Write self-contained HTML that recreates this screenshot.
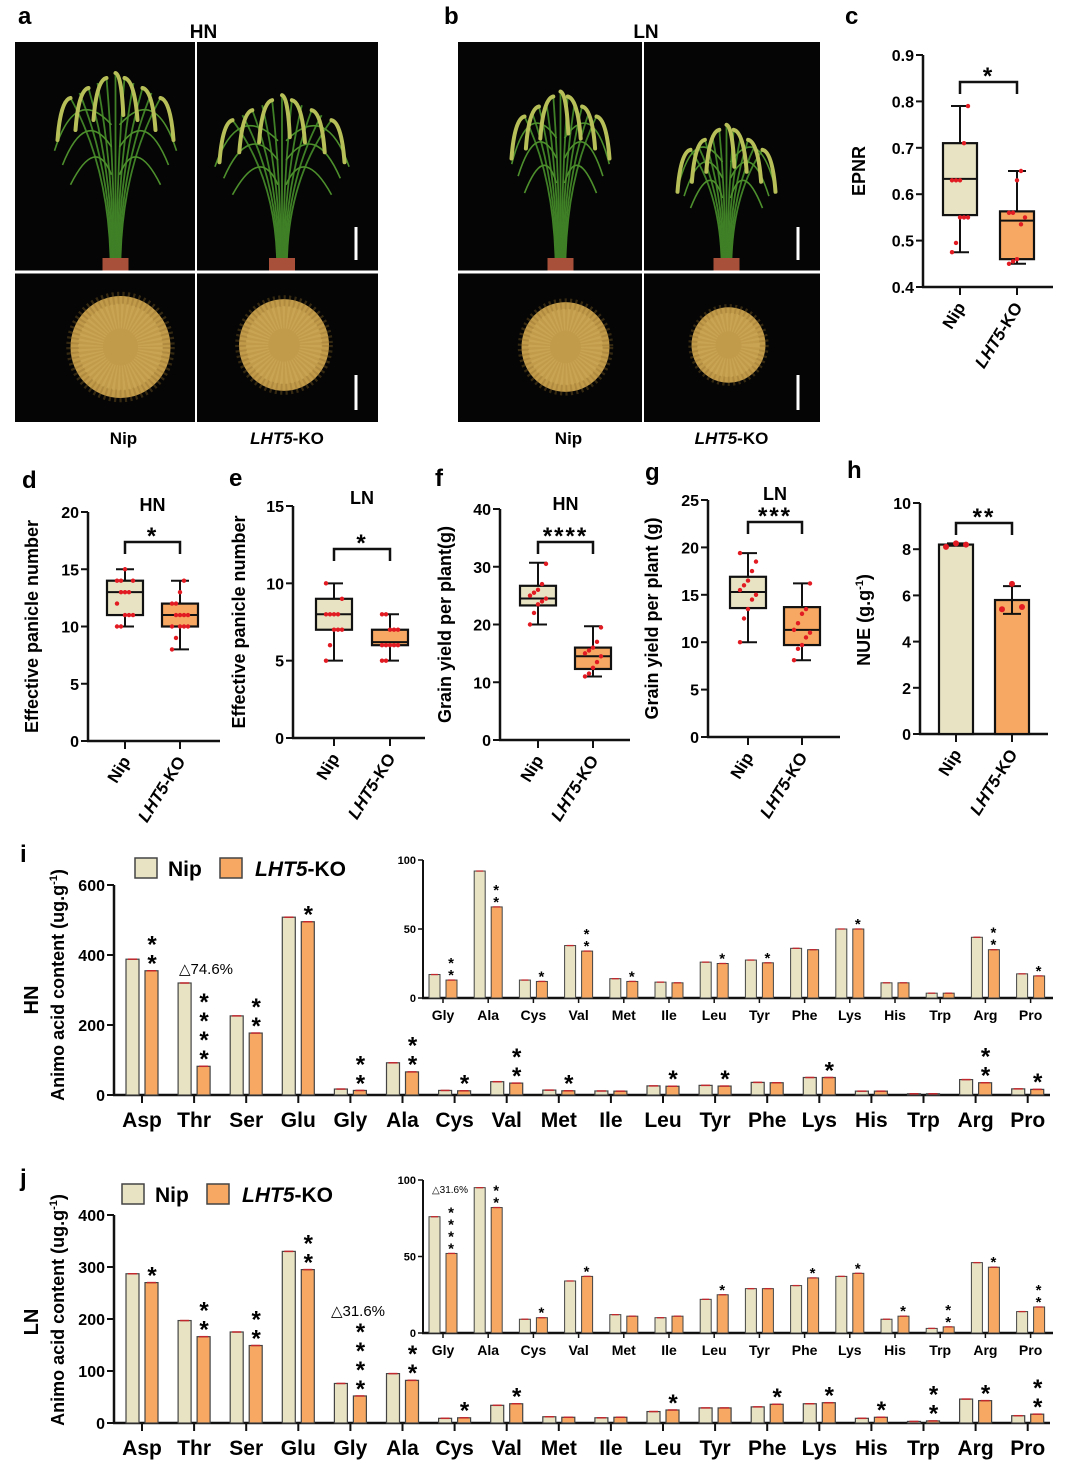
<!DOCTYPE html>
<html><head><meta charset="utf-8"><style>
html,body{margin:0;padding:0;background:#fff;}
svg{display:block;font-family:"Liberation Sans",Arial,sans-serif;}
</style></head><body>
<svg id="fig" width="1080" height="1473" viewBox="0 0 1080 1473" xmlns="http://www.w3.org/2000/svg">
<g id="photos"></g>
<g id="charts"></g>
</svg>
<script>
// ---------- DATA ----------
const groups = ["Nip", "LHT5-KO"];
// panel c (EPNR) box stats: [min, q1, median, q3, max]
const cNip = [0.475, 0.555, 0.633, 0.71, 0.79];
const cKO = [0.45, 0.46, 0.543, 0.563, 0.65];
const cTicks = [0.4, 0.5, 0.6, 0.7, 0.8, 0.9];
const cDotsNip = [0.475, 0.495, 0.55, 0.55, 0.55, 0.63, 0.63, 0.63, 0.71, 0.79];
const cDotsKO = [0.45, 0.455, 0.46, 0.535, 0.55, 0.56, 0.56, 0.63, 0.65];
// panel d
const dNip = [10, 11, 13, 14, 15];
const dKO = [8, 10, 11, 12, 14];
const dTicks = [0, 5, 10, 15, 20];
const dDotsNip = [10, 10, 11, 11, 11, 12, 13, 13, 13, 14, 14, 14, 15];
const dDotsKO = [8, 9, 10, 10, 10, 10, 11, 11, 11, 11, 12, 12, 13, 14];
// panel e
const eNip = [5, 7, 8, 9, 10];
const eKO = [5, 6, 6.2, 7, 8];
const eTicks = [0, 5, 10, 15];
const eDotsNip = [5, 6, 7, 7, 7, 8, 8, 8, 8, 9, 10];
const eDotsKO = [5, 5, 6, 6, 6, 6, 6, 7, 7, 7, 8, 8];
// panel f
const fNip = [20, 23.3, 24.5, 26.7, 30.7];
const fKO = [11, 12.3, 14.5, 16, 19.7];
const fTicks = [0, 10, 20, 30, 40];
const fDotsNip = [20, 22, 23.5, 24, 24.5, 25, 25.5, 26, 27, 30.5];
const fDotsKO = [11, 11.5, 12.5, 13.5, 14.5, 15, 15.5, 16, 17, 19.5];
// panel g
const gNip = [10, 13.6, 15.3, 16.9, 19.4];
const gKO = [8.1, 9.7, 11.3, 13.7, 16.2];
const gTicks = [0, 5, 10, 15, 20, 25];
const gDotsNip = [10, 12.5, 13.5, 14.5, 15, 15.5, 16, 16.5, 17.5, 18.5, 19.4];
const gDotsKO = [8.1, 9.3, 9.7, 10.5, 11, 11.3, 12, 13, 13.5, 16.2];
// panel h
const hValues = [8.2, 5.8];
const hErrLow = [8.15, 5.2];
const hErrHigh = [8.25, 6.4];
const hDotsNip = [8.1, 8.25, 8.2];
const hDotsKO = [5.4, 6.5, 5.5];
const hTicks = [0, 2, 4, 6, 8, 10];
// amino acids
const aaMain = ["Asp","Thr","Ser","Glu","Gly","Ala","Cys","Val","Met","Ile","Leu","Tyr","Phe","Lys","His","Trp","Arg","Pro"];
const aaInset = ["Gly","Ala","Cys","Val","Met","Ile","Leu","Tyr","Phe","Lys","His","Trp","Arg","Pro"];
const hnNip = [388, 320, 226, 508, 17, 92, 13, 38, 14, 11.5, 26, 27.5, 36, 50, 11, 3.5, 44, 17.5];
const hnKO = [355, 82, 177, 495, 13, 66, 12, 34, 12, 11, 25, 25.5, 35, 50, 11, 3.5, 35, 16];
const hnStars = [2, 4, 2, 1, 2, 2, 1, 2, 1, 0, 1, 1, 0, 1, 0, 0, 2, 1];
const lnNip = [287, 197, 175, 330, 76, 95, 9, 34, 12, 10, 22, 29, 31, 37, 9, 3, 46, 14];
const lnKO = [270, 166, 149, 295, 52, 82, 10, 37, 11, 11, 25, 29, 36, 39, 11, 4, 43, 17];
const lnStars = [1, 2, 2, 2, 4, 2, 1, 1, 0, 0, 1, 0, 1, 1, 1, 2, 1, 2];
const hnTicks = [0, 200, 400, 600];
const lnTicks = [0, 100, 200, 300, 400];
const insetTicks = [0, 50, 100];

// ---------- HELPERS ----------
const NS = "http://www.w3.org/2000/svg";
const photos = document.getElementById("photos");
const charts = document.getElementById("charts");
function mk(tag, attrs, parent, txt) {
  const e = document.createElementNS(NS, tag);
  for (const k in attrs) e.setAttribute(k, attrs[k]);
  if (txt !== undefined) e.textContent = txt;
  (parent || charts).appendChild(e);
  return e;
}
function lin(d0, d1, r0, r1) { return v => r0 + (v - d0) * (r1 - r0) / (d1 - d0); }

// ---------- PHOTOS ----------
function plant(g, cx, baseY, h, spread) {
  mk("rect", {x: cx - 13, y: baseY, width: 26, height: 13, fill: "#a9503a"}, g);
  const offs = [-5, -4, -3, -2, -1, 0, 1, 2, 3, 4, 5];
  offs.forEach(i => {
    const tx = cx + i * spread * 0.09;
    const ty = baseY - h + Math.abs(i) * 5;
    mk("path", {d: `M${cx + i},${baseY} Q${cx + i * 1.5},${baseY - h * 0.5} ${tx},${ty}`, stroke: "#3f7f26", "stroke-width": 1.8, fill: "none"}, g);
  });
  // leaves
  [-1, 1].forEach(s => {
    [0.45, 0.6, 0.72].forEach((f, j) => {
      const y0 = baseY - h * f;
      mk("path", {d: `M${cx + s * 4},${y0} Q${cx + s * (20 + j * 10) * spread / 100},${y0 - 40} ${cx + s * (45 + j * 8) * spread / 100},${y0 + 10 + j * 8}`, stroke: "#4d8f2c", "stroke-width": 1.6, fill: "none"}, g);
    });
  });
  // panicles drooping
  offs.filter(i => i % 2 !== 0 || i === 0).forEach(i => {
    const tx = cx + i * spread * 0.09;
    const ty = baseY - h + Math.abs(i) * 5;
    const d = i === 0 ? 6 : Math.sign(i) * 10;
    mk("path", {d: `M${tx},${ty} Q${tx + d},${ty + 2} ${tx + d * 1.3},${ty + 42}`, stroke: "#b7bf58", "stroke-width": 4, fill: "none", "stroke-linecap": "round"}, g);
  });
}
function grains(g, cx, cy, r) {
  mk("ellipse", {cx: cx, cy: cy, rx: r, ry: r * 1.02, fill: "#c19a4a"}, g);
  mk("ellipse", {cx: cx, cy: cy, rx: r * 0.96, ry: r * 0.98, fill: "none", stroke: "#8e6d2c", "stroke-width": r * 0.25, "stroke-dasharray": "2 3", opacity: 0.35}, g);
  mk("ellipse", {cx: cx, cy: cy, rx: r * 0.6, ry: r * 0.62, fill: "none", stroke: "#d8b865", "stroke-width": r * 0.5, "stroke-dasharray": "2 2", opacity: 0.35}, g);
}
function photoPanel(x0, x1, divX, cond, p1, p2) {
  const g = mk("g", {}, photos);
  
  
  mk("rect", {x: x0, y: 42, width: x1 - x0, height: 380, fill: "#050505"}, g);
  plant(g, (x0 + divX) / 2 + 10, 258, 185 * p1.h, 100 * p1.s);
  plant(g, (divX + x1) / 2 - 5, 258, 185 * p2.h, 100 * p2.s);
  grains(g, (x0 + divX) / 2 + 15, 347, p1.r);
  grains(g, (divX + x1) / 2 - 3, 345, p2.r);
  mk("line", {x1: divX, y1: 42, x2: divX, y2: 422, stroke: "#fff", "stroke-width": 2}, g);
  mk("line", {x1: x0, y1: 272, x2: x1, y2: 272, stroke: "#fff", "stroke-width": 3}, g);
  mk("line", {x1: x1 - 22, y1: 227, x2: x1 - 22, y2: 260, stroke: "#fff", "stroke-width": 3}, g);
  mk("line", {x1: x1 - 22, y1: 375, x2: x1 - 22, y2: 410, stroke: "#fff", "stroke-width": 3}, g);
  const t = mk("text", {x: (x0 + x1) / 2 + 7, y: 38, "font-size": 19, "font-weight": "bold", "text-anchor": "middle"}, photos, cond);
  
  
  mk("text", {x: (x0 + divX) / 2 + 18, y: 444, "font-size": 17, "font-weight": "bold", "text-anchor": "middle"}, photos, "Nip");
  const k = mk("text", {x: (divX + x1) / 2, y: 444, "font-size": 17, "font-weight": "bold", "text-anchor": "middle"}, photos);
  mk("tspan", {"font-style": "italic"}, k, "LHT5");
  mk("tspan", {}, k, "-KO");
}
photoPanel(15, 378, 196, "HN", {h: 1.0, s: 1, r: 50}, {h: 0.88, s: 1.1, r: 45});
photoPanel(458, 820, 643, "LN", {h: 0.9, s: 0.8, r: 44}, {h: 0.72, s: 0.8, r: 37});
function panelLetter(x, y, l) {
  const t = mk("text", {x: x, y: y, "font-size": 24, "font-weight": "bold"}, charts, l);
  
  
}
panelLetter(18, 24, "a"); panelLetter(444, 24, "b"); panelLetter(845, 24, "c");
panelLetter(22, 488, "d"); panelLetter(229, 486, "e"); panelLetter(435, 486, "f");
panelLetter(645, 480, "g"); panelLetter(847, 478, "h"); panelLetter(20, 862, "i"); panelLetter(20, 1186, "j");

// ---------- BOX / BAR PANELS ----------
function groupLabels(g, xs, y0) {
  const n = mk("text", {transform: `translate(${xs[0] + 6},${y0 + 20}) rotate(-58)`, "font-size": 17, "font-weight": "bold", "text-anchor": "end"}, g, "Nip");
   
  const k = mk("text", {transform: `translate(${xs[1] + 6},${y0 + 20}) rotate(-58)`, "font-size": 17, "font-weight": "bold", "text-anchor": "end"}, g);
   
  mk("tspan", {"font-style": "italic"}, k, "LHT5");
  mk("tspan", {}, k, "-KO");
}
function axes(g, ax, axEnd, y, ticks, dec, ylab, ylabX, fs) {
  mk("line", {x1: ax, y1: y(ticks[0]) + 1, x2: ax, y2: y(ticks[ticks.length - 1]), stroke: "#111", "stroke-width": 2.5}, g);
  mk("line", {x1: ax - 1, y1: y(ticks[0]), x2: axEnd, y2: y(ticks[0]), stroke: "#111", "stroke-width": 2.5}, g);
  ticks.forEach(t => {
    mk("line", {x1: ax - 7, y1: y(t), x2: ax, y2: y(t), stroke: "#111", "stroke-width": 2}, g);
    const tl = mk("text", {x: ax - 9, y: y(t) + 6, "font-size": 16, "font-weight": "bold", "text-anchor": "end"}, g, t.toFixed(dec));
     
  });
  const yl = mk("text", {transform: `translate(${ylabX},${(y(ticks[0]) + y(ticks[ticks.length - 1])) / 2}) rotate(-90)`, "font-size": fs || 18, "font-weight": "bold", "text-anchor": "middle"}, g, ylab);
   
  return yl;
}
function sig(g, x1, x2, yb, stars) {
  mk("path", {d: `M${x1},${yb + 12} V${yb} H${x2} V${yb + 12}`, stroke: "#111", "stroke-width": 2.5, fill: "none"}, g);
  const s = mk("text", {x: (x1 + x2) / 2, y: yb + 2, "font-size": 24, "font-weight": "bold", "text-anchor": "middle", "letter-spacing": 2}, g, stars);
   
}
function box(g, cx, w, st, y, fill, dots, name) {
  const b = mk("g", {}, g);
   
  mk("line", {x1: cx, y1: y(st[0]), x2: cx, y2: y(st[4]), stroke: "#111", "stroke-width": 2}, b);
  mk("line", {x1: cx - 9, y1: y(st[0]), x2: cx + 9, y2: y(st[0]), stroke: "#111", "stroke-width": 2}, b);
  mk("line", {x1: cx - 9, y1: y(st[4]), x2: cx + 9, y2: y(st[4]), stroke: "#111", "stroke-width": 2}, b);
  mk("rect", {x: cx - w / 2, y: y(st[3]), width: w, height: y(st[1]) - y(st[3]), fill: fill, stroke: "#111", "stroke-width": 2.2}, b);
  mk("line", {x1: cx - w / 2, y1: y(st[2]), x2: cx + w / 2, y2: y(st[2]), stroke: "#111", "stroke-width": 2}, b);
  dots.forEach((v, i) => {
    const d = mk("circle", {cx: cx + ((i % 5) - 2) * 4, cy: y(v), r: 2.2, fill: "#e21b23"}, b);
     
  });
}
function boxPanel(o) {
  const g = mk("g", {});
   
  const y = lin(o.ticks[0], o.ticks[o.ticks.length - 1], o.y0, o.y1);
  axes(g, o.ax, o.axEnd, y, o.ticks, o.dec, o.ylab, o.ylabX, o.fs);
  o.xs.forEach(x => mk("line", {x1: x, y1: o.y0, x2: x, y2: o.y0 + 8, stroke: "#111", "stroke-width": 2}, g));
  box(g, o.xs[0], o.w, o.nip, y, "#e8e3c3", o.dn, "box-nip");
  box(g, o.xs[1], o.w, o.ko, y, "#f7a862", o.dk, "box-ko");
  sig(g, o.xs[0], o.xs[1], o.sigY, o.stars);
  if (o.title) mk("text", {x: (o.xs[0] + o.xs[1]) / 2, y: o.titleY, "font-size": 18, "font-weight": "bold", "text-anchor": "middle"}, g, o.title);
  groupLabels(g, o.xs, o.y0);
}
boxPanel({name: "panel-c-epnr", ax: 923, axEnd: 1053, y0: 287, y1: 55, ticks: cTicks, dec: 1, ylab: "EPNR", ylabX: 865, xs: [960, 1017], w: 34, nip: cNip, ko: cKO, dn: cDotsNip, dk: cDotsKO, sigY: 82, stars: "*"});
boxPanel({name: "panel-d-hn-panicle", ax: 88, axEnd: 220, y0: 741, y1: 512, ticks: dTicks, dec: 0, ylab: "Effective panicle number", ylabX: 38, xs: [125, 180], w: 36, nip: dNip, ko: dKO, dn: dDotsNip, dk: dDotsKO, sigY: 542, stars: "*", title: "HN", titleY: 511});
boxPanel({name: "panel-e-ln-panicle", ax: 293, axEnd: 425, y0: 738, y1: 506, ticks: eTicks, dec: 0, ylab: "Effective panicle number", ylabX: 245, xs: [334, 390], w: 36, nip: eNip, ko: eKO, dn: eDotsNip, dk: eDotsKO, sigY: 549, stars: "*", title: "LN", titleY: 504});
boxPanel({name: "panel-f-hn-yield", ax: 500, axEnd: 630, y0: 740, y1: 509, ticks: fTicks, dec: 0, ylab: "Grain yield per plant(g)", ylabX: 451, xs: [538, 593], w: 36, nip: fNip, ko: fKO, dn: fDotsNip, dk: fDotsKO, sigY: 542, stars: "****", title: "HN", titleY: 510});
boxPanel({name: "panel-g-ln-yield", ax: 708, axEnd: 840, y0: 737, y1: 500, ticks: gTicks, dec: 0, ylab: "Grain yield per plant (g)", ylabX: 658, xs: [748, 802], w: 36, nip: gNip, ko: gKO, dn: gDotsNip, dk: gDotsKO, sigY: 522, stars: "***", title: "LN", titleY: 500});

// panel h bars
(function () {
  const g = mk("g", {});
   
  const y = lin(0, 10, 734, 503);
  axes(g, 920, 1048, y, hTicks, 0, "", 868);
  const yl = mk("text", {transform: "translate(870,620) rotate(-90)", "font-size": 18, "font-weight": "bold", "text-anchor": "middle"}, g);
   
  mk("tspan", {}, yl, "NUE (g.g");
  mk("tspan", {dy: -7, "font-size": 11}, yl, "-1");
  mk("tspan", {dy: 7}, yl, ")");
  const xs = [956, 1012], fills = ["#e8e3c3", "#f7a862"], dots = [hDotsNip, hDotsKO];
  hValues.forEach((v, i) => {
    const r = mk("rect", {x: xs[i] - 17, y: y(v), width: 34, height: y(0) - y(v), fill: fills[i], stroke: "#111", "stroke-width": 2.2}, g);
     
    mk("line", {x1: xs[i], y1: y(hErrLow[i]), x2: xs[i], y2: y(hErrHigh[i]), stroke: "#111", "stroke-width": 2}, g);
    mk("line", {x1: xs[i] - 9, y1: y(hErrLow[i]), x2: xs[i] + 9, y2: y(hErrLow[i]), stroke: "#111", "stroke-width": 2}, g);
    mk("line", {x1: xs[i] - 9, y1: y(hErrHigh[i]), x2: xs[i] + 9, y2: y(hErrHigh[i]), stroke: "#111", "stroke-width": 2}, g);
    dots[i].forEach((d, j) => mk("circle", {cx: xs[i] + (j - 1) * 10, cy: y(d), r: 3, fill: "#e21b23"}, g));
    mk("line", {x1: xs[i], y1: 734, x2: xs[i], y2: 742, stroke: "#111", "stroke-width": 2}, g);
  });
  sig(g, xs[0], xs[1], 523, "**");
  groupLabels(g, xs, 734);
})();

// ---------- AMINO ACID PANELS ----------
function starsAt(g, x, yTop, n, fs, step) {
  for (let k = 0; k < n; k++) {
    const s = mk("text", {x: x, y: yTop + fs * 0.2 - k * step, "font-size": fs, "font-weight": "bold", "text-anchor": "middle"}, g, "*");
     
  }
}
function aaPanel(o) {
  const g = mk("g", {});
   
  const y = lin(0, o.ticks[o.ticks.length - 1], o.y0, o.y1);
  axes(g, 114, 1050, y, o.ticks, 0, "", 57);
  const t = mk("text", {transform: `translate(64,${o.ylabY}) rotate(-90)`, "font-size": 18, "font-weight": "bold", "text-anchor": "middle"}, g);
   
  mk("tspan", {}, t, "Animo acid content (ug.g");
  mk("tspan", {dy: -7, "font-size": 11}, t, "-1");
  mk("tspan", {dy: 7}, t, ")");
  const c = mk("text", {transform: `translate(38,${o.condY}) rotate(-90)`, "font-size": 20, "font-weight": "bold", "text-anchor": "middle"}, g, o.cond);
   
  const xc = i => 142 + i * 52.1;
  aaMain.forEach((a, i) => {
    const x = xc(i);
    const bn = mk("rect", {x: x - 16, y: y(o.nip[i]), width: 13, height: y(0) - y(o.nip[i]), fill: "#e8e3c3", stroke: "#444", "stroke-width": 1.2}, g);
     
    const bk = mk("rect", {x: x + 3, y: y(o.ko[i]), width: 13, height: y(0) - y(o.ko[i]), fill: "#f7a862", stroke: "#444", "stroke-width": 1.2}, g);
     
    mk("line", {x1: x - 14, y1: y(o.nip[i]), x2: x - 5, y2: y(o.nip[i]), stroke: "#c0282d", "stroke-width": 1.5}, g);
    mk("line", {x1: x + 5, y1: y(o.ko[i]), x2: x + 14, y2: y(o.ko[i]), stroke: "#c0282d", "stroke-width": 1.5}, g);
    mk("line", {x1: x, y1: o.y0, x2: x, y2: o.y0 + 8, stroke: "#111", "stroke-width": 2}, g);
    const l = mk("text", {x: x, y: o.y0 + 32, "font-size": 21, "font-weight": "bold", "text-anchor": "middle"}, g, a);
     
    starsAt(g, x + 10, y(o.ko[i]) - 4, o.stars[i], 24, 19);
  });
  // inset
  const yi = lin(0, 100, o.iy0, o.iy1);
  mk("line", {x1: 423, y1: o.iy0 + 1, x2: 423, y2: o.iy1, stroke: "#111", "stroke-width": 2}, g);
  mk("line", {x1: 422, y1: o.iy0, x2: 1053, y2: o.iy0, stroke: "#111", "stroke-width": 2.5}, g);
  insetTicks.forEach(tk => {
    mk("line", {x1: 418, y1: yi(tk), x2: 423, y2: yi(tk), stroke: "#111", "stroke-width": 1.5}, g);
    const tl = mk("text", {x: 416, y: yi(tk) + 4, "font-size": 11, "font-weight": "bold", "text-anchor": "end"}, g, tk);
     
  });
  const xi = i => 443 + i * 45.2;
  aaInset.forEach((a, i) => {
    const mi = aaMain.indexOf(a), x = xi(i);
    const bn = mk("rect", {x: x - 14, y: yi(o.nip[mi]), width: 11, height: yi(0) - yi(o.nip[mi]), fill: "#e8e3c3", stroke: "#444", "stroke-width": 1}, g);
     
    const bk = mk("rect", {x: x + 3, y: yi(o.ko[mi]), width: 11, height: yi(0) - yi(o.ko[mi]), fill: "#f7a862", stroke: "#444", "stroke-width": 1}, g);
     
    mk("line", {x1: x - 12, y1: yi(o.nip[mi]), x2: x - 5, y2: yi(o.nip[mi]), stroke: "#c0282d", "stroke-width": 1.3}, g);
    mk("line", {x1: x + 5, y1: yi(o.ko[mi]), x2: x + 12, y2: yi(o.ko[mi]), stroke: "#c0282d", "stroke-width": 1.3}, g);
    mk("line", {x1: x, y1: o.iy0, x2: x, y2: o.iy0 + 5, stroke: "#111", "stroke-width": 1.5}, g);
    const l = mk("text", {x: x, y: o.iy0 + 22, "font-size": 14, "font-weight": "bold", "text-anchor": "middle"}, g, a);
     
    starsAt(g, x + 8, yi(o.ko[mi]) - 3, o.stars[mi], 15, 12);
  });
  // legend
  const lg = mk("g", {}, g);
   
  mk("rect", {x: o.lx, y: o.ly, width: 22, height: 20, fill: "#e8e3c3", stroke: "#444", "stroke-width": 1.5}, lg);
  mk("text", {x: o.lx + 33, y: o.ly + 18, "font-size": 21, "font-weight": "bold"}, lg, "Nip");
  mk("rect", {x: o.lx + 85, y: o.ly, width: 22, height: 20, fill: "#f7a862", stroke: "#444", "stroke-width": 1.5}, lg);
  const k = mk("text", {x: o.lx + 120, y: o.ly + 18, "font-size": 21, "font-weight": "bold"}, lg);
  mk("tspan", {"font-style": "italic"}, k, "LHT5");
  mk("tspan", {}, k, "-KO");
  o.notes.forEach(n => {
    const t2 = mk("text", {x: n[0], y: n[1], "font-size": n[2], "text-anchor": "middle"}, g, n[3]);
     
  });
}
aaPanel({name: "panel-i-hn-amino-acids", cond: "HN", condY: 1000, ylabY: 985, ticks: hnTicks, y0: 1095, y1: 885, iy0: 998, iy1: 860, nip: hnNip, ko: hnKO, stars: hnStars, lx: 135, ly: 858, notes: [[206, 974, 15, "△74.6%"]]});
aaPanel({name: "panel-j-ln-amino-acids", cond: "LN", condY: 1322, ylabY: 1310, ticks: lnTicks, y0: 1423, y1: 1215, iy0: 1333, iy1: 1180, nip: lnNip, ko: lnKO, stars: lnStars, lx: 122, ly: 1184, notes: [[358, 1316, 15, "△31.6%"], [450, 1193, 10, "△31.6%"]]});
</script>
</body></html>
